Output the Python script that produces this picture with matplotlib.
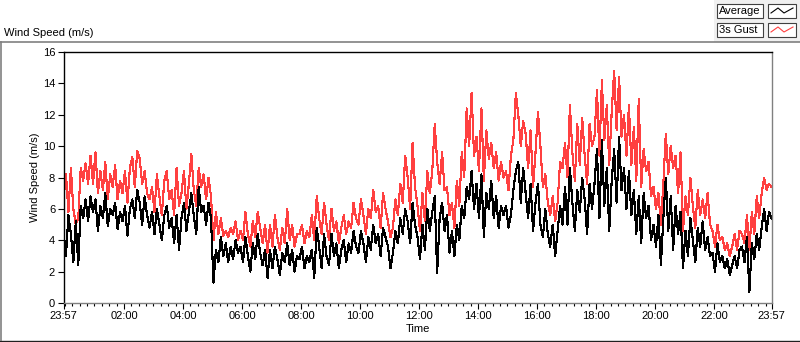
import numpy as np
import matplotlib
matplotlib.use("Agg")
import matplotlib.pyplot as plt
from matplotlib.patches import Rectangle
from matplotlib.lines import Line2D

#---------------------------------------#
# Datos (cada 5 min) #
#---------------------------------------#

# velocidad media (m/s), 12 valores por hora desde las 23:57
avg_speed = [
    4.6, 3.0, 5.6, 4.4, 2.6, 5.2, 2.4, 6.2, 5.4, 6.6, 5.2, 6.8,
    5.8, 6.6, 4.6, 6.2, 5.4, 7.0, 4.9, 6.0, 5.6, 6.4, 4.7, 5.8,
    5.2, 6.2, 4.3, 6.0, 6.6, 5.4, 7.2, 6.4, 5.0, 6.8, 5.6, 4.8,
    5.8, 4.4, 6.0, 5.0, 4.0, 5.6, 6.2, 4.8, 5.4, 3.8, 5.6, 3.4,
    5.4, 6.4, 4.6, 5.8, 7.0, 5.6, 4.4, 7.4, 5.8, 6.2, 5.0, 6.4,
    5.4, 1.3, 3.4, 2.6, 4.2, 3.0, 3.8, 2.6, 3.6, 2.8, 4.0, 3.2,
    3.6, 2.6, 4.2, 3.0, 2.0, 3.8, 2.8, 4.4, 3.2, 2.4, 3.4, 1.6,
    3.4, 2.2, 3.6, 2.8, 1.8, 3.2, 2.6, 3.8, 2.4, 3.4, 2.0, 3.0,
    2.8, 3.6, 2.2, 3.0, 2.6, 3.4, 1.6, 4.8, 3.6, 2.2, 4.4, 3.0,
    2.4, 4.4, 3.0, 3.8, 2.2, 3.4, 4.0, 2.6, 3.8, 3.2, 4.6, 3.6,
    3.2, 4.6, 3.8, 2.6, 4.2, 3.4, 5.0, 3.8, 4.4, 3.0, 4.8, 4.2,
    3.6, 2.2, 3.2, 4.6, 3.8, 5.4, 4.4, 6.0, 5.2, 3.8, 6.4, 5.0,
    4.2, 2.8, 5.0, 3.4, 6.0, 4.6, 5.8, 6.8, 1.9, 5.4, 6.4, 4.6,
    5.6, 3.2, 4.6, 3.0, 5.0, 4.0, 6.2, 5.4, 7.4, 6.6, 8.4, 6.0,
    7.6, 5.4, 8.2, 4.2, 7.0, 6.0, 7.8, 5.4, 6.8, 4.8, 6.2, 5.6,
    6.2, 4.8, 5.6, 7.2, 8.4, 9.0, 6.4, 8.6, 7.0, 5.4, 7.6, 4.6,
    6.4, 7.6, 5.0, 4.2, 6.0, 4.4, 3.6, 5.0, 3.0, 4.6, 6.2, 5.0,
    7.4, 5.0, 8.6, 6.4, 4.6, 7.2, 5.8, 8.0, 6.6, 4.4, 7.6, 6.0,
    7.6, 9.8, 5.4, 10.4, 6.2, 8.6, 4.6, 7.8, 9.8, 6.4, 10.6, 7.2,
    8.6, 6.0, 8.4, 5.6, 7.2, 4.4, 6.8, 3.8, 7.0, 5.4, 6.2, 4.0,
    5.0, 3.6, 5.6, 2.4, 5.4, 8.0, 4.6, 6.8, 3.4, 6.2, 4.4, 5.8,
    2.2, 4.6, 3.0, 5.4, 4.0, 2.6, 4.8, 3.6, 5.2, 3.4, 4.2, 3.0,
    3.2, 2.0, 3.8, 2.6, 3.0, 2.2, 2.8, 1.8, 2.4, 3.0, 2.2, 3.4,
    3.6, 2.6, 4.2, 0.7, 3.8, 2.8, 4.4, 3.4, 4.8, 6.0, 4.6, 5.8,
    5.4,
]

# racha de 3 s (m/s)
gust_speed = [
    6.6, 8.2, 5.8, 8.6, 6.0, 5.0, 5.4, 8.6, 7.8, 8.9, 7.6, 9.4,
    7.6, 9.6, 7.0, 8.4, 7.2, 9.0, 6.6, 8.2, 7.4, 8.8, 6.6, 7.8,
    7.0, 8.4, 6.4, 8.6, 9.3, 7.4, 9.7, 9.2, 7.6, 8.4, 7.0, 6.6,
    7.4, 5.8, 8.2, 6.8, 5.6, 7.8, 8.4, 6.6, 7.2, 5.6, 8.6, 6.2,
    7.0, 8.4, 6.0, 7.6, 9.5, 7.2, 6.2, 8.6, 7.4, 8.2, 6.6, 8.0,
    6.8, 4.0, 5.8, 4.4, 5.4, 4.3, 4.6, 4.2, 4.8, 4.4, 5.2, 4.0,
    4.6, 4.0, 5.8, 4.4, 3.6, 5.2, 4.2, 5.8, 4.8, 3.8, 5.0, 3.2,
    5.0, 3.6, 5.6, 4.2, 3.4, 4.8, 3.8, 6.0, 4.0, 5.0, 3.6, 4.4,
    4.4, 5.0, 3.8, 4.6, 4.2, 5.6, 4.0, 6.8, 5.4, 4.4, 6.4, 5.0,
    4.0, 6.0, 4.6, 5.2, 3.8, 4.8, 5.6, 4.4, 5.2, 4.8, 6.4, 5.4,
    5.0, 6.6, 5.6, 4.4, 6.0, 5.4, 7.2, 5.8, 6.2, 4.8, 7.0, 6.0,
    5.2, 4.2, 4.8, 6.6, 5.6, 7.6, 6.4, 9.4, 8.0, 6.0, 10.2, 7.4,
    6.2, 4.6, 7.0, 5.2, 8.4, 7.0, 8.4, 11.4, 9.0, 7.6, 9.6, 7.2,
    7.4, 5.6, 6.4, 4.8, 7.8, 6.2, 9.6, 8.0, 12.4, 10.0, 13.4, 9.4,
    10.6, 8.4, 12.4, 7.8, 11.0, 9.2, 10.2, 8.6, 9.6, 7.8, 9.0, 8.0,
    8.4, 7.2, 9.4, 10.4, 13.4, 12.0, 10.0, 11.6, 10.8, 8.6, 11.0, 7.4,
    9.6, 12.2, 10.0, 7.4, 8.2, 6.4, 5.6, 6.8, 5.2, 6.4, 9.0, 8.6,
    10.2, 8.0, 12.6, 9.6, 7.8, 11.4, 8.8, 11.8, 9.4, 7.6, 11.4, 10.0,
    10.6, 13.6, 9.4, 14.2, 10.4, 12.6, 8.8, 12.2, 14.8, 11.0, 14.4, 10.6,
    12.0, 9.4, 12.6, 8.8, 11.2, 7.8, 13.0, 7.4, 9.8, 8.4, 9.0, 6.8,
    7.4, 6.0, 7.0, 5.0, 7.6, 10.8, 8.2, 10.0, 8.6, 9.4, 7.0, 9.6,
    4.6, 6.8, 5.6, 8.0, 6.2, 4.8, 7.2, 5.6, 6.6, 5.4, 7.0, 5.0,
    4.6, 3.6, 5.0, 4.0, 4.2, 3.4, 3.8, 3.0, 3.6, 4.4, 3.4, 4.6,
    4.4, 3.8, 5.6, 3.4, 5.8, 4.4, 6.8, 5.4, 7.0, 8.0, 7.2, 7.6,
    7.4,
]

# minutos desde las 23:57
minutes = np.arange(len(avg_speed)) * 5

tick_pos = [0, 123, 243, 363, 483, 603, 723, 843, 963, 1083, 1203, 1323, 1440]
tick_labels = ["23:57", "02:00", "04:00", "06:00", "08:00", "10:00", "12:00",
               "14:00", "16:00", "18:00", "20:00", "22:00", "23:57"]

W, H = 800, 342
plt.rcParams['font.family'] = ['Liberation Sans', 'DejaVu Sans']
fs = 8

def px(x, y):
    # pixeles (desde arriba a la izquierda) a fraccion de figura
    return x / W, 1 - y / H

fig = plt.figure(figsize=(W / 100, H / 100), dpi=100)

# marco exterior y panel de la leyenda
fig.add_artist(Rectangle(px(714, 42), 86 / W, 42 / H, transform=fig.transFigure,
                         facecolor='#f0f0f0', edgecolor='none'))
fig.add_artist(Line2D([0, 1], [1 - 42 / H] * 2, transform=fig.transFigure, color='#808080', lw=1.2))
fig.add_artist(Line2D([0.5 / W] * 2, [1 - 42 / H, 1 - 340 / H], transform=fig.transFigure, color='#808080', lw=1.2))
fig.add_artist(Line2D([0, 1], [1 - 340.5 / H] * 2, transform=fig.transFigure, color='#202020', lw=1))

ax = fig.add_axes([63.5 / W, 39 / H, 708 / W, 251 / H])
ax.plot(minutes, gust_speed, color='#ff4040', lw=0.8, antialiased=False)
ax.plot(minutes, avg_speed, color='black', lw=0.8, antialiased=False)

ax.set_xlim(0, 1440)
ax.set_ylim(0, 16)
ax.set_yticks(np.arange(0, 17, 2))
ax.set_xticks(tick_pos)
ax.set_xticklabels(tick_labels)
ax.set_xticks(np.arange(3, 1440, 15), minor=True)
ax.tick_params(axis='both', which='major', direction='out', length=4, width=0.8,
               labelsize=fs, pad=2)
ax.tick_params(axis='x', which='minor', direction='out', length=2.5, width=0.8)

for s in ['left', 'top']:
    ax.spines[s].set_color('black')
    ax.spines[s].set_linewidth(1)
for s in ['bottom', 'right']:
    ax.spines[s].set_color('#808080')
    ax.spines[s].set_linewidth(1)

ax.set_ylabel("Wind Speed (m/s)", fontsize=fs, labelpad=2)
ax.set_xlabel("Time", fontsize=fs, labelpad=2)

fig.text(*px(4, 33), "Wind Speed (m/s)", fontsize=fs, va='center', ha='left')

# leyenda al estilo LabVIEW
for i, (name, col) in enumerate([("Average", 'black'), ("3s Gust", '#ff4040')]):
    y0 = 4 + i * 19
    fig.add_artist(Rectangle(px(717, y0 + 14), 46 / W, 14 / H, transform=fig.transFigure,
                             facecolor='white', edgecolor='#404040', lw=0.8))
    fig.text(*px(719, y0 + 7), name, fontsize=fs, va='center', ha='left')
    fig.add_artist(Rectangle(px(768, y0 + 14), 28 / W, 14 / H, transform=fig.transFigure,
                             facecolor='white', edgecolor='#404040', lw=0.8))
    zx = [771, 778, 784, 793]
    zy = [y0 + 9, y0 + 4, y0 + 9, y0 + 4]
    fig.add_artist(Line2D([v / W for v in zx], [1 - v / H for v in zy],
                          transform=fig.transFigure, color=col, lw=0.8))

fig.savefig("out.png", dpi=100)
